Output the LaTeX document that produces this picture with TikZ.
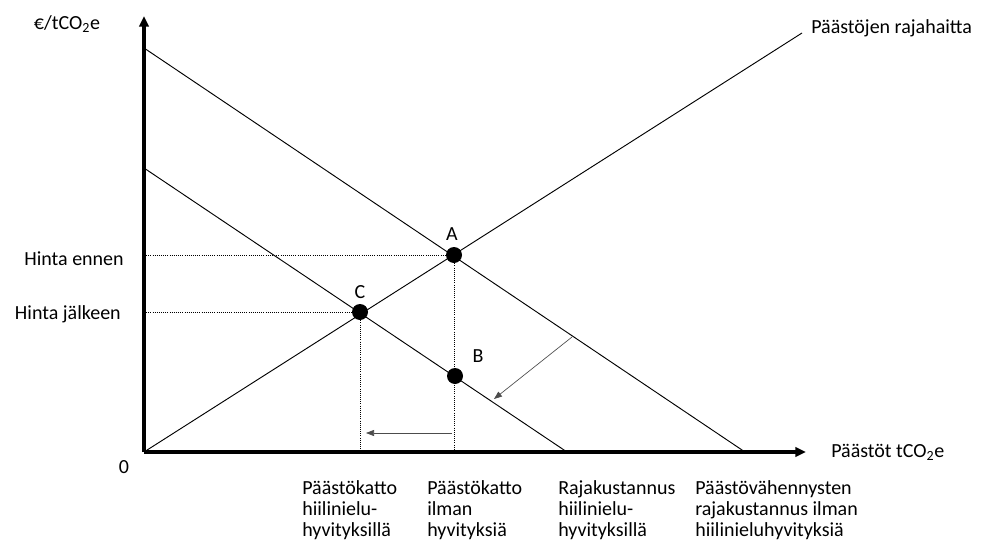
\documentclass[tikz,border=0pt]{standalone}
\usepackage{fontspec}
\setmainfont{Carlito}
\usetikzlibrary{arrows.meta}
\begin{document}
\begin{tikzpicture}[x=0.75pt,y=-0.75pt,
    font=\fontsize{15}{16}\selectfont,
    axis/.style={line width=2.5pt,-{Triangle[length=8pt,width=7pt]}},
    curve/.style={line width=0.7pt},
    guide/.style={densely dotted,line width=0.6pt},
    shiftarrow/.style={black!70,line width=0.5pt,-{Triangle[length=6pt,width=4.5pt]}},
    dot/.style={circle,fill=black,inner sep=0pt,minimum size=12pt},
    lbl/.style={inner sep=0pt}]
  \useasboundingbox (0,0) rectangle (983,543);
  \coordinate (O) at (144,452);
  \coordinate (ytop) at (144,16);
  \coordinate (xend) at (806,452);
  \coordinate (mac0) at (144,48);
  \coordinate (mac1) at (745,452);
  \coordinate (macs0) at (144,168);
  \coordinate (macs1) at (567,452);
  \coordinate (mdc) at (802,33);
  \coordinate (capfrom) at (452,433);
  \coordinate (capto) at (366,433);
  \coordinate (movefrom) at (572,337);
  \coordinate (moveto) at (494,399);
  \node[dot] (A) at (454,255) {};
  \node[dot] (B) at (455,376) {};
  \node[dot] (C) at (360,312) {};
  \node (labA) at (452,234) {A};
  \node (labB) at (478,356) {B};
  \node (labC) at (360,292) {C};
  \begin{scope}[guide]
    \draw (A -| O) -- (A);
    \draw (C -| O) -- (C);
    \draw (A) -- (A |- O);
    \draw (C) -- (C |- O);
  \end{scope}
  \begin{scope}[curve]
    \draw (mac0) -- (mac1);
    \draw (macs0) -- (macs1);
    \draw (O) -- (mdc);
  \end{scope}
  \draw[shiftarrow] (capfrom) -- (capto);
  \draw[shiftarrow] (movefrom) -- (moveto);
  \draw[axis] (O) -- (ytop);
  \draw[axis] (O) -- (xend);
  \node[lbl] (yname) at (67,24) {€/tCO\textsubscript{2}e};
  \node[lbl,anchor=east] (pbefore) at (124,259) {Hinta ennen};
  \node[lbl,anchor=east] (pafter) at (121,314) {Hinta jälkeen};
  \node[lbl] (zero) at (124,467) {0};
  \node[lbl,anchor=west] (xname) at (831,452) {Päästöt tCO\textsubscript{2}e};
  \node[lbl,anchor=west] (mdcname) at (811,28) {Päästöjen rajahaitta};
  \node[lbl,anchor=north west,align=left] (capsink) at (302,480)
    {Päästökatto\\hiilinielu-\\hyvityksillä};
  \node[lbl,anchor=north west,align=left] (capnone) at (427,480)
    {Päästökatto\\ilman\\hyvityksiä};
  \node[lbl,anchor=north west,align=left] (macsink) at (558,480)
    {Rajakustannus\\hiilinielu-\\hyvityksillä};
  \node[lbl,anchor=north west,align=left] (macnone) at (695,480)
    {Päästövähennysten\\rajakustannus ilman\\hiilinieluhyvityksiä};
\end{tikzpicture}
\end{document}
